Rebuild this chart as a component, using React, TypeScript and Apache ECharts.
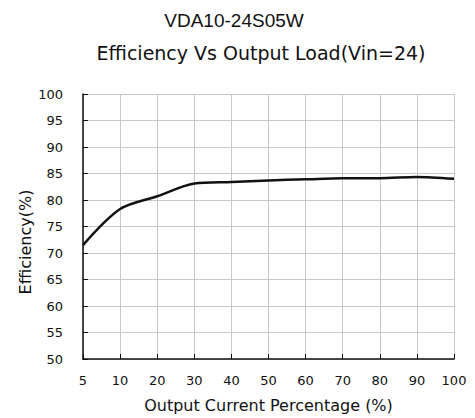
import React, { useEffect, useRef } from "react";
import * as echarts from "echarts";

const categories = ["5", "10", "20", "30", "40", "50", "60", "70", "80", "90", "100"];
const efficiency = [71.5, 78.3, 80.7, 83.1, 83.4, 83.7, 83.9, 84.1, 84.1, 84.35, 84.0];
const yMin = 50;
const yMax = 100;
const yStep = 5;

export default function App() {
  const ref = useRef<HTMLDivElement>(null);
  useEffect(() => {
    document.body.style.margin = "0";
    const chart = echarts.init(ref.current!, null, { renderer: "svg" });
    const font = "'DejaVu Sans', sans-serif";
    chart.setOption({
      animation: false,
      backgroundColor: "#ffffff",
      graphic: [
        {
          type: "text",
          x: 234,
          y: 20,
          style: {
            text: "VDA10-24S05W",
            fontFamily: "'Liberation Sans', Arial, sans-serif",
            fontSize: 19,
            fill: "#111",
            align: "center",
            verticalAlign: "middle",
          },
        },
        {
          type: "text",
          x: 261,
          y: 53,
          style: {
            text: "Efficiency Vs Output Load(Vin=24)",
            fontFamily: font,
            fontSize: 19,
            fill: "#111",
            align: "center",
            verticalAlign: "middle",
          },
        },
        {
          type: "text",
          x: 25,
          y: 242,
          rotation: Math.PI / 2,
          style: {
            text: "Efficiency(%)",
            fontFamily: font,
            fontSize: 16,
            fill: "#111",
            align: "center",
            verticalAlign: "middle",
          },
        },
      ],
      grid: { left: 83, right: 21, top: 94, bottom: 56 },
      xAxis: {
        type: "category",
        data: categories,
        boundaryGap: false,
        name: "Output Current Percentage (%)",
        nameLocation: "middle",
        nameGap: 38,
        nameTextStyle: { fontFamily: font, fontSize: 16, color: "#111" },
        axisLine: { lineStyle: { color: "#111", width: 1.5 } },
        axisTick: { inside: true, length: 5, lineStyle: { color: "#111" } },
        axisLabel: { fontFamily: font, fontSize: 13, color: "#111", margin: 15 },
        splitLine: { show: true, lineStyle: { color: "#c8c8c8", width: 1 } },
      },
      yAxis: {
        type: "value",
        min: yMin,
        max: yMax,
        interval: yStep,
        axisLine: { show: true, lineStyle: { color: "#111", width: 1.5 } },
        axisTick: { show: true, inside: true, length: 5, lineStyle: { color: "#111" } },
        axisLabel: { fontFamily: font, fontSize: 13, color: "#111", margin: 20 },
        splitLine: { show: true, lineStyle: { color: "#c8c8c8", width: 1 } },
      },
      series: [
        {
          type: "line",
          data: efficiency,
          smooth: 0.3,
          symbol: "none",
          lineStyle: { color: "#111", width: 2.5 },
        },
      ],
    });
    return () => chart.dispose();
  }, []);
  return <div ref={ref} style={{ position: "absolute", left: 0, top: 0, width: 475, height: 418 }} />;
}
